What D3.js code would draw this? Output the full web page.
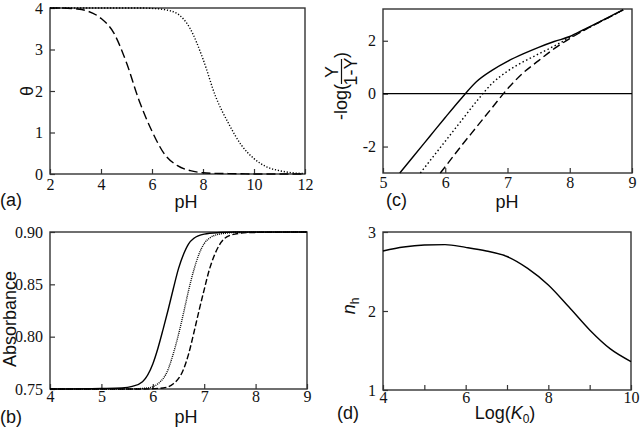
<!DOCTYPE html>
<html>
<head>
<meta charset="UTF-8">
<script src="https://d3js.org/d3.v7.min.js"></script>
<style>
  body { margin: 0; background: #fff; }
  .tick line { stroke: #333; stroke-width: 1.2; }
  .frame { fill: none; stroke: #333; stroke-width: 1.4; }
  .title { font-family: "Liberation Sans", Arial, sans-serif; font-size: 18px; fill: #111; }
  .curve { fill: none; stroke: #000; stroke-width: 1.4; }
</style>
</head>
<body>
<svg width="640" height="429"></svg>
<script>
// (a) theta vs pH
const phA = [2, 2.5, 3, 3.5, 4, 4.5, 5, 5.5, 6, 6.5, 7, 7.5, 8, 8.5, 9, 9.5, 10, 10.5, 11, 11.5, 12];
const thetaDashed = [4.0, 4.0, 3.98, 3.92, 3.75, 3.4, 2.68, 1.76, 1.03, 0.47, 0.2, 0.08, 0.03, 0.015, 0.01, 0.005, 0, 0, 0, 0, 0];
const thetaDotted = [4.0, 4.0, 4.0, 4.0, 4.0, 4.0, 4.0, 4.0, 3.99, 3.96, 3.86, 3.5, 2.77, 1.86, 1.22, 0.7, 0.37, 0.17, 0.08, 0.03, 0.01];

// (b) absorbance vs pH
const absSolidPH = [4, 5, 5.4, 5.6, 5.8, 6.0, 6.1, 6.2, 6.3, 6.4, 6.5, 6.6, 6.7, 6.8, 7.0, 7.3, 7.6, 9];
const absSolid = [0.75, 0.7505, 0.751, 0.7525, 0.757, 0.774, 0.789, 0.807, 0.826, 0.846, 0.865, 0.879, 0.889, 0.894, 0.898, 0.8995, 0.9, 0.9];
const absDotPH = [4, 5.5, 5.9, 6.1, 6.3, 6.4, 6.5, 6.6, 6.7, 6.8, 6.9, 7.0, 7.1, 7.3, 7.6, 9];
const absDot = [0.75, 0.75, 0.751, 0.755, 0.769, 0.784, 0.802, 0.823, 0.845, 0.864, 0.879, 0.889, 0.894, 0.898, 0.8995, 0.9];
const absDashPH = [4, 5.8, 6.2, 6.4, 6.6, 6.7, 6.8, 6.9, 7.0, 7.1, 7.2, 7.3, 7.4, 7.6, 7.9, 9];
const absDash = [0.75, 0.75, 0.751, 0.755, 0.769, 0.784, 0.804, 0.825, 0.845, 0.864, 0.878, 0.888, 0.894, 0.898, 0.8995, 0.9];

// (c) -log(Y/(1-Y)) vs pH
const hillSolidPH = [5.27, 5.5, 5.75, 6.0, 6.25, 6.5, 6.75, 7.0, 7.25, 7.5, 7.75, 8.0, 8.25, 8.5, 8.75, 8.86];
const hillSolid = [-3, -2.34, -1.62, -0.9, -0.2, 0.45, 0.88, 1.22, 1.5, 1.75, 1.97, 2.16, 2.45, 2.74, 3.04, 3.17];
const hillDotPH = [5.6, 5.75, 6.0, 6.25, 6.5, 6.75, 7.0, 7.25, 7.5, 7.75, 8.0, 8.25, 8.5, 8.75, 8.86];
const hillDot = [-3, -2.55, -1.8, -1.05, -0.3, 0.38, 0.85, 1.2, 1.5, 1.8, 2.12, 2.43, 2.73, 3.03, 3.17];
const hillDashPH = [5.92, 6.0, 6.25, 6.5, 6.75, 7.0, 7.25, 7.5, 7.75, 8.0, 8.25, 8.5, 8.75, 8.86];
const hillDash = [-3, -2.76, -2.0, -1.27, -0.54, 0.18, 0.78, 1.25, 1.7, 2.08, 2.42, 2.73, 3.03, 3.17];

// (d) nh vs Log(K0)
const logK = [4, 4.5, 5, 5.5, 6, 6.5, 7, 7.5, 8, 8.5, 9, 9.5, 10];
const nh = [2.76, 2.81, 2.835, 2.84, 2.805, 2.76, 2.69, 2.54, 2.33, 2.05, 1.76, 1.52, 1.36];

const svg = d3.select("svg");

function styleTicks(g) {
  g.select(".domain").remove();
  g.selectAll("text")
    .attr("fill", "#111")
    .style("font-family", "\"Liberation Serif\"")
    .style("font-size", "16px");
}

function panel(box, xDom, yDom, xTicks, yTicks, xFmt, yFmt, xPad) {
  const x = d3.scaleLinear().domain(xDom).range([box.x0, box.x1]);
  const y = d3.scaleLinear().domain(yDom).range([box.y1, box.y0]);
  svg.append("g")
    .attr("transform", `translate(0,${box.y1})`)
    .call(d3.axisBottom(x).tickValues(xTicks).tickFormat(xFmt).tickSizeInner(-5).tickSizeOuter(0).tickPadding(xPad))
    .call(styleTicks);
  svg.append("g")
    .attr("transform", `translate(${box.x0},0)`)
    .call(d3.axisLeft(y).tickValues(yTicks).tickFormat(yFmt).tickSizeInner(-5).tickSizeOuter(0).tickPadding(7))
    .call(styleTicks);
  svg.append("rect").attr("class", "frame")
    .attr("x", box.x0).attr("y", box.y0)
    .attr("width", box.x1 - box.x0).attr("height", box.y1 - box.y0);
  return { x, y };
}

function curve(sc, xs, ys, dash, color, w) {
  const line = d3.line().x(d => sc.x(d[0])).y(d => sc.y(d[1])).curve(d3.curveMonotoneX);
  svg.append("path").attr("class", "curve")
    .attr("d", line(xs.map((v, i) => [v, ys[i]])))
    .attr("stroke-dasharray", dash)
    .attr("stroke", color || "#000")
    .attr("stroke-width", w || 1.4);
}

function label(x, y, txt, anchor) {
  return svg.append("text").attr("class", "title").attr("x", x).attr("y", y)
    .attr("text-anchor", anchor || "start").text(txt);
}

// (a)
const A = panel({ x0: 50, x1: 305, y0: 8, y1: 174 }, [2, 12], [0, 4],
  [2, 4, 6, 8, 10, 12], [0, 1, 2, 3, 4], d => d, d => d, 5);
curve(A, phA, thetaDashed, "9,4");
curve(A, phA, thetaDotted, "1.2,1.8", "#000", 1.1);
label(0, 206, "(a)");
label(186, 208, "pH", "middle");
label(0, 0, "θ", "middle").attr("transform", "translate(33,91) rotate(-90)");

// (c)
const C = panel({ x0: 383, x1: 632, y0: 9, y1: 173 }, [5, 9], [-3, 3.2],
  [5, 6, 7, 8, 9], [-2, 0, 2], d => d, d => String(d), 4);
svg.append("line")
  .attr("x1", C.x(5)).attr("x2", C.x(9))
  .attr("y1", C.y(0)).attr("y2", C.y(0))
  .attr("stroke", "#000").attr("stroke-width", 1.3);
curve(C, hillSolidPH, hillSolid, null);
curve(C, hillDotPH, hillDot, "1.5,2.5", "#000", 1.3);
curve(C, hillDashPH, hillDash, "8,4");
label(386, 206, "(c)");
label(507, 208, "pH", "middle");
const yl = svg.append("g").attr("transform", "translate(347,120) rotate(-90)");
yl.append("text").attr("class", "title").attr("x", 0).attr("y", 0).text("-log(");
yl.append("text").attr("class", "title").attr("x", 48).attr("y", -9).attr("text-anchor", "middle").text("Y");
yl.append("line").attr("x1", 36).attr("x2", 61).attr("y1", -5.5).attr("y2", -5.5)
  .attr("stroke", "#111").attr("stroke-width", 1.2);
yl.append("text").attr("class", "title").attr("x", 48.5).attr("y", 10).attr("text-anchor", "middle").text("1-Y");
yl.append("text").attr("class", "title").attr("x", 62).attr("y", 0).text(")");

// (b)
const B = panel({ x0: 50, x1: 307, y0: 232, y1: 389 }, [4, 9], [0.75, 0.9],
  [4, 5, 6, 7, 8, 9], [0.75, 0.8, 0.85, 0.9], d => d, d3.format(".2f"), 2);
curve(B, absSolidPH, absSolid, null);
curve(B, absDotPH, absDot, "1,1", "#777", 1.1);
curve(B, absDashPH, absDash, "6,2.5");
label(0, 423, "(b)");
label(186, 423, "pH", "middle");
label(0, 0, "Absorbance", "middle").attr("transform", "translate(16,319) rotate(-90)");

// (d)
const D = panel({ x0: 383, x1: 631, y0: 232, y1: 390 }, [4, 10], [1, 3],
  [4, 5, 6, 7, 8, 9, 10], [1, 2, 3], d => (d % 2 === 0 ? d : ""), d => d, 2);
curve(D, logK, nh, null);
label(337, 419, "(d)");
const xl = label(505, 419, "Log(", "middle");
xl.append("tspan").attr("font-style", "italic").text("K");
xl.append("tspan").attr("font-size", "12px").attr("dy", 4).text("0");
xl.append("tspan").attr("dy", -4).text(")");
const nl = label(0, 0, "", "middle").attr("transform", "translate(355,306) rotate(-90)");
nl.append("tspan").attr("font-style", "italic").text("n");
nl.append("tspan").attr("font-size", "12px").attr("dy", 4).text("h");
</script>
</body>
</html>
